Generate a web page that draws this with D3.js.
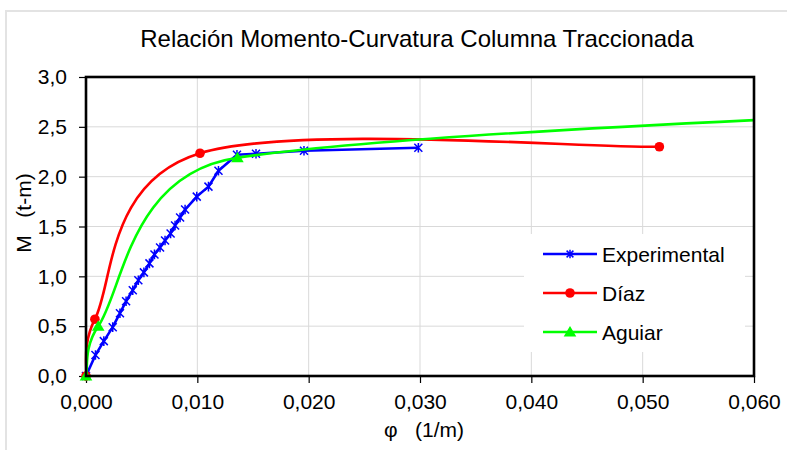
<!DOCTYPE html>
<html>
<head>
<meta charset="utf-8">
<script src="https://cdn.jsdelivr.net/npm/d3@7"></script>
<style>
  html, body { margin: 0; padding: 0; background: #fff; }
  svg { display: block; font-family: "Liberation Sans", Arial, sans-serif; }
  text { white-space: pre; }
</style>
</head>
<body>
<svg id="chart" width="787" height="450"></svg>
<script>
// ---- Data ----
const titleText = "Relación Momento-Curvatura Columna Traccionada";
const xLabel = "φ   (1/m)";
const yLabel = "M   (t-m)";
const xTicks = [0, 0.01, 0.02, 0.03, 0.04, 0.05, 0.06];
const yTicks = [0, 0.5, 1.0, 1.5, 2.0, 2.5, 3.0];
const xTickLabels = ["0,000", "0,010", "0,020", "0,030", "0,040", "0,050", "0,060"];
const yTickLabels = ["0,0", "0,5", "1,0", "1,5", "2,0", "2,5", "3,0"];

const expPhi = [0, 0.00085, 0.0016, 0.0024, 0.00305, 0.0036, 0.0042, 0.0047, 0.0052, 0.0057, 0.00615, 0.00665, 0.0071, 0.0076, 0.008, 0.00845, 0.0089, 0.00995, 0.011, 0.0119, 0.01356, 0.01527, 0.01958, 0.02985];
const expM   = [0, 0.21, 0.35, 0.49, 0.63, 0.75, 0.86, 0.96, 1.04, 1.13, 1.22, 1.29, 1.36, 1.43, 1.51, 1.59, 1.67, 1.80, 1.90, 2.06, 2.22, 2.23, 2.26, 2.29];

const diazPhi = [0, 0.0008, 0.01024, 0.0515];
const diazM   = [0, 0.57, 2.235, 2.30];

// last Aguiar point lies beyond the visible x range (line is clipped at 0,060)
const aguiarPhi = [0, 0.0011, 0.0136, 0.15];
const aguiarM   = [0, 0.50, 2.19, 2.95];

const seriesNames = ["Experimental", "Díaz", "Aguiar"];
const seriesColors = ["#0000ff", "#ff0000", "#00ff00"];

// ---- Spreadsheet-style smoothed curve (Bezier, arms limited to half a segment) ----
function SmoothCurve(context) { this._context = context; }
SmoothCurve.prototype = {
  areaStart() {}, areaEnd() {},
  lineStart() { this._pts = []; },
  point(x, y) { this._pts.push([+x, +y]); },
  lineEnd() {
    const p = this._pts, c = this._context, n = p.length;
    if (!n) return;
    c.moveTo(p[0][0], p[0][1]);
    if (n === 1) return;
    const lim = (vx, vy, d) => {
      const len = Math.hypot(vx, vy);
      if (len > d / 2 && len > 0) { const s = (d / 2) / len; return [vx * s, vy * s]; }
      return [vx, vy];
    };
    for (let i = 0; i < n - 1; i++) {
      const a = p[i], b = p[i + 1];
      const pr = p[i - 1] || a, nx = p[i + 2] || b;
      const d = Math.hypot(b[0] - a[0], b[1] - a[1]);
      const a1 = lim((b[0] - pr[0]) / 6, (b[1] - pr[1]) / 6, d);
      const a2 = lim((nx[0] - a[0]) / 6, (nx[1] - a[1]) / 6, d);
      c.bezierCurveTo(a[0] + a1[0], a[1] + a1[1], b[0] - a2[0], b[1] - a2[1], b[0], b[1]);
    }
  }
};
const curveSmooth = ctx => new SmoothCurve(ctx);

// ---- Layout ----
const svg = d3.select("#chart");
const L = 86, R = 754, T = 77, B = 376;
const x = d3.scaleLinear().domain([0, 0.06]).range([L, R]);
const y = d3.scaleLinear().domain([0, 3]).range([B, T]);

// outer chart border
svg.append("rect").attr("x", 6).attr("y", 11).attr("width", 800).attr("height", 460)
  .attr("fill", "none").attr("stroke", "#e3e3e3").attr("stroke-width", 2);

// gridlines
svg.append("g").selectAll("line.vg").data(xTicks.slice(1, -1)).join("line")
  .attr("x1", d => x(d)).attr("x2", d => x(d)).attr("y1", T).attr("y2", B)
  .attr("stroke", "#d9d9d9").attr("stroke-width", 1);
svg.append("g").selectAll("line.hg").data(yTicks.slice(1, -1)).join("line")
  .attr("x1", L).attr("x2", R).attr("y1", d => y(d)).attr("y2", d => y(d))
  .attr("stroke", "#d9d9d9").attr("stroke-width", 1);

// axes
const xAxis = d3.axisBottom(x).tickValues(xTicks).tickSize(7).tickPadding(11)
  .tickFormat((d, i) => xTickLabels[i]);
const yAxis = d3.axisLeft(y).tickValues(yTicks).tickSize(7).tickPadding(12)
  .tickFormat((d, i) => yTickLabels[i]);
const gx = svg.append("g").attr("transform", `translate(0,${B})`).call(xAxis);
const gy = svg.append("g").attr("transform", `translate(${L},0)`).call(yAxis);
[gx, gy].forEach(g => {
  g.select(".domain").remove();
  g.selectAll(".tick line").attr("stroke", "#000").attr("stroke-width", 1.2);
  g.selectAll(".tick text").attr("fill", "#000").attr("font-size", 21)
    .attr("font-family", "'Liberation Sans', Arial, sans-serif");
});

// clips
svg.append("clipPath").attr("id", "plotclip").append("rect")
  .attr("x", L - 8).attr("y", T - 6).attr("width", R - L + 8).attr("height", B - T + 14);
svg.append("clipPath").attr("id", "agclip").append("rect")
  .attr("x", L - 8).attr("y", T).attr("width", R - L + 8).attr("height", B - T + 14);

const plot = svg.append("g");
const clipped = plot.append("g").attr("clip-path", "url(#plotclip)");

const starPath = s => `M${-s},${-s}L${s},${s}M${-s},${s}L${s},${-s}M0,${-s - 0.8}L0,${s + 0.8}`;
const triPath = s => `M0,${-s}L${s * 1.05},${s * 0.75}L${-s * 1.05},${s * 0.75}Z`;

// Experimental (straight segments)
const expData = expPhi.map((p, i) => [p, expM[i]]);
const line = d3.line().x(d => x(d[0])).y(d => y(d[1]));
clipped.append("path").datum(expData).attr("d", line)
  .attr("fill", "none").attr("stroke", seriesColors[0]).attr("stroke-width", 2.6)
  .attr("stroke-linejoin", "round");
clipped.selectAll("path.exp").data(expData).join("path")
  .attr("transform", d => `translate(${x(d[0])},${y(d[1])})`)
  .attr("d", starPath(4)).attr("fill", "none")
  .attr("stroke", seriesColors[0]).attr("stroke-width", 1.5);

// Díaz (smoothed)
const smooth = d3.line().x(d => x(d[0])).y(d => y(d[1])).curve(curveSmooth);
const diazData = diazPhi.map((p, i) => [p, diazM[i]]);
clipped.append("path").datum(diazData).attr("d", smooth)
  .attr("fill", "none").attr("stroke", seriesColors[1]).attr("stroke-width", 2.6);
clipped.selectAll("circle.diaz").data(diazData).join("circle")
  .attr("cx", d => x(d[0])).attr("cy", d => y(d[1])).attr("r", 4.8)
  .attr("fill", seriesColors[1]);

// Aguiar (smoothed)
const aguiarData = aguiarPhi.map((p, i) => [p, aguiarM[i]]);
plot.append("path").datum(aguiarData).attr("d", smooth)
  .attr("clip-path", "url(#agclip)")
  .attr("fill", "none").attr("stroke", seriesColors[2]).attr("stroke-width", 2.6);
clipped.selectAll("path.ag").data(aguiarData.filter(d => d[0] <= 0.06)).join("path")
  .attr("transform", d => `translate(${x(d[0])},${y(d[1])})`)
  .attr("d", triPath(6)).attr("fill", seriesColors[2]);

// frame
svg.append("rect").attr("x", L).attr("y", T).attr("width", R - L).attr("height", B - T)
  .attr("fill", "none").attr("stroke", "#000").attr("stroke-width", 2.6);

// legend
const lg = svg.append("g");
lg.append("rect").attr("x", 524).attr("y", 234).attr("width", 221).attr("height", 118).attr("fill", "#fff");
const rows = [254, 293, 332];
seriesNames.forEach((name, i) => {
  const ry = rows[i];
  lg.append("line").attr("x1", 543).attr("x2", 597).attr("y1", ry).attr("y2", ry)
    .attr("stroke", seriesColors[i]).attr("stroke-width", 2.6);
  if (i === 0) {
    lg.append("path").attr("transform", `translate(570,${ry})`).attr("d", starPath(3.4))
      .attr("fill", "none").attr("stroke", seriesColors[0]).attr("stroke-width", 1.5);
  } else if (i === 1) {
    lg.append("circle").attr("cx", 570).attr("cy", ry).attr("r", 4.8).attr("fill", seriesColors[1]);
  } else {
    lg.append("path").attr("transform", `translate(570,${ry})`).attr("d", triPath(6)).attr("fill", seriesColors[2]);
  }
  lg.append("text").attr("x", 602).attr("y", ry + 7.5).attr("font-size", 21)
    .attr("fill", "#000").text(name);
});

// title & axis labels
svg.append("text").attr("x", 417).attr("y", 47).attr("text-anchor", "middle")
  .attr("font-size", 24).attr("fill", "#000").text(titleText);
svg.append("text").attr("x", 424).attr("y", 437).attr("text-anchor", "middle")
  .attr("font-size", 21).attr("fill", "#000").text(xLabel);
svg.append("text").attr("transform", "translate(31,213) rotate(-90)").attr("text-anchor", "middle")
  .attr("font-size", 21).attr("fill", "#000").text(yLabel);
</script>
</body>
</html>
